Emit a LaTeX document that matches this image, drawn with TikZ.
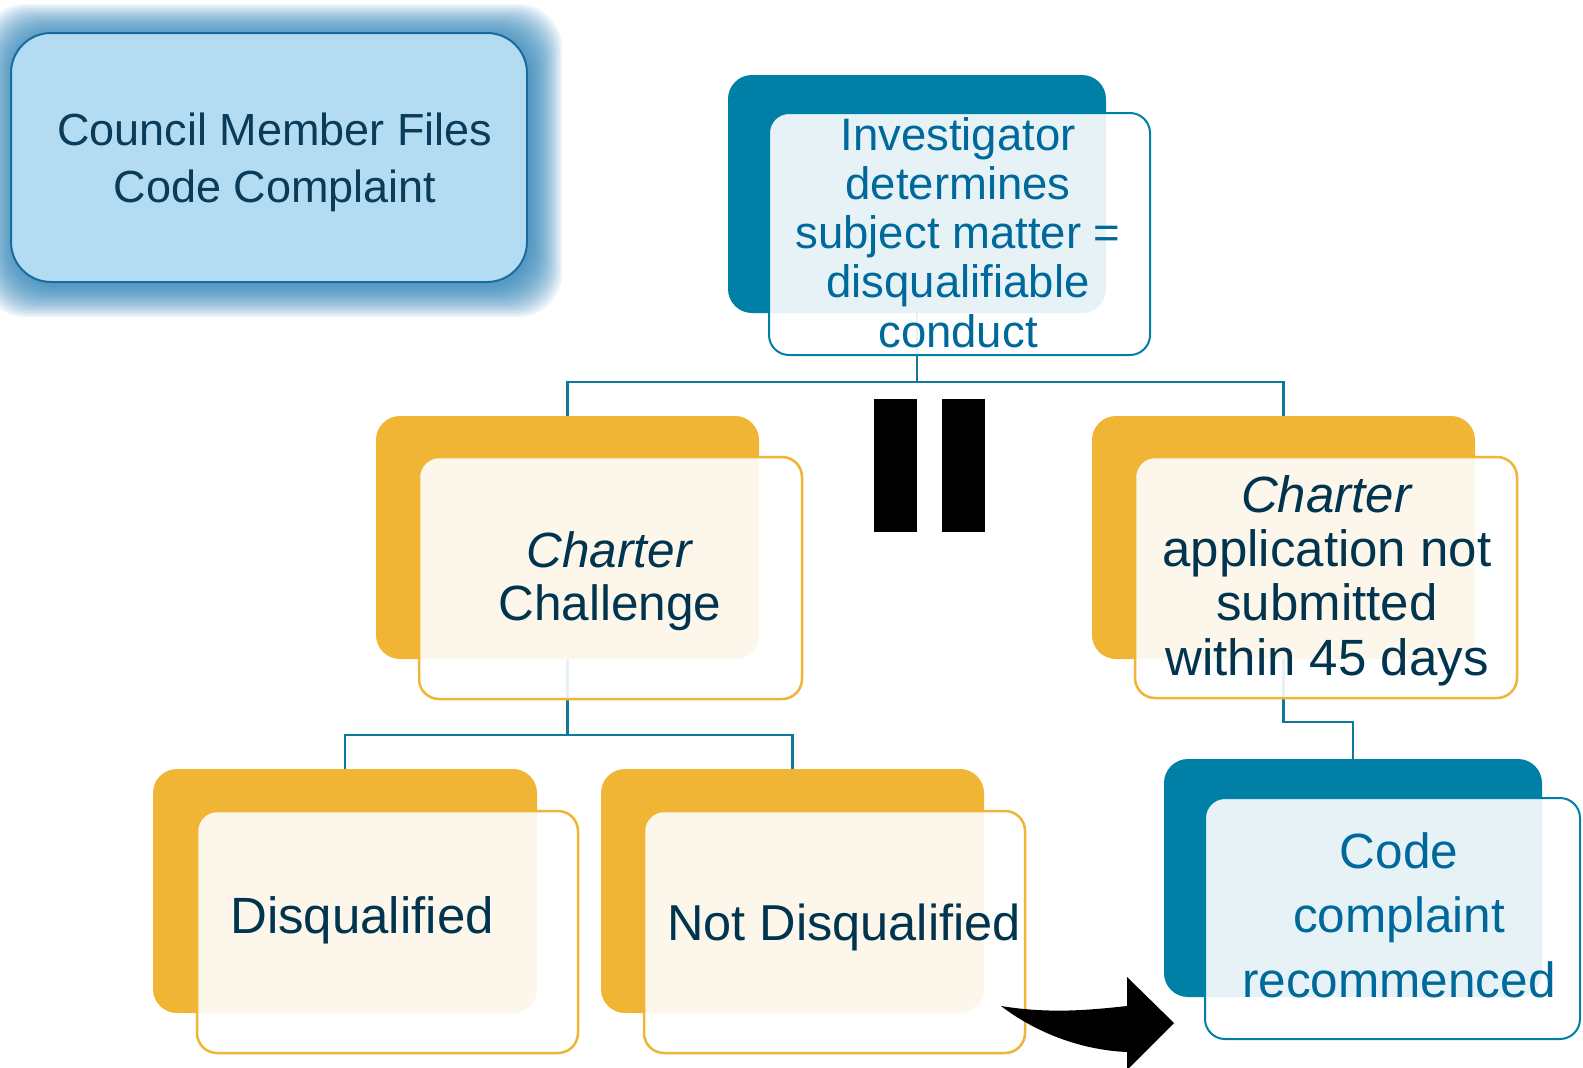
\documentclass[tikz,border=0pt]{standalone}
\usepackage{fontspec}
\setmainfont{Liberation Sans}
\definecolor{tealdark}{HTML}{0080A6}
\definecolor{goldc}{HTML}{F0B534}
\definecolor{navytxt}{HTML}{00344F}
\definecolor{tealtxt}{HTML}{00699B}
\definecolor{linecol}{HTML}{0E7A9B}
\definecolor{councilfill}{HTML}{B3DCF2}
\definecolor{councilborder}{HTML}{1A6A9E}
\definecolor{councilTxt}{HTML}{0A3B58}
\definecolor{glowblue}{HTML}{1E7DB5}
\pgfdeclarelayer{bg}
\pgfsetlayers{bg,main}
\tikzset{
  box/.style={rectangle, inner sep=0pt, outer sep=0pt},
  backgold/.style={box, fill=goldc, rounded corners=24pt},
  backteal/.style={box, fill=tealdark, rounded corners=24pt},
  frontgold/.style={box, draw=goldc, line width=2.5pt, fill=white, fill opacity=0.9, rounded corners=20pt},
  frontteal/.style={box, draw=tealdark, line width=2pt, fill=white, fill opacity=0.9, rounded corners=20pt},
  conn/.style={draw=linecol, line width=2.5pt},
  txtnavy/.style={align=center, anchor=base, text=navytxt, inner sep=0pt},
  txtteal/.style={align=center, anchor=base, text=tealtxt, inner sep=0pt},
}
\begin{document}
\begin{tikzpicture}[x=1pt, y=-1pt]
\useasboundingbox (0,0) rectangle (1583,1068);
\begin{pgfonlayer}{bg}
\fill[white] (0,0) rectangle (1583,1068);
\end{pgfonlayer}

% glow around council box
\foreach \s in {2,4,...,32} {
  \fill[glowblue, opacity=0.08, rounded corners=44pt]
    ({11-\s+3},{33-\s+3}) rectangle ({527+\s+3},{282+\s+3});
}
\node[box, fill=councilfill, draw=councilborder, line width=2pt, rounded corners=40pt,
      minimum width=516pt, minimum height=249pt] (council) at (269,157.5) {};
\node[align=center, anchor=base, text=councilTxt, inner sep=0pt,
      font=\fontsize{45}{57}\selectfont] (councilt) at (275,202)
      {Council Member Files\\Code Complaint};

% Investigator
\node[backteal, minimum width=378pt, minimum height=238pt] (invb) at (917,194) {};
\node[frontteal, minimum width=381pt, minimum height=242pt] (invf) at (959.5,234) {};
\node[txtteal, font=\fontsize{45.5}{49.2}\selectfont] (invt) at (958,347)
  {Investigator\\determines\\subject matter =\\disqualifiable\\conduct};

% Charter Challenge
\node[backgold, minimum width=383pt, minimum height=243pt] (ccb) at (567.5,537.5) {};
\node[frontgold, minimum width=383pt, minimum height=242pt] (ccf) at (610.5,578) {};
\node[txtnavy, font=\fontsize{49.5}{53}\selectfont] (cct) at (610,620)
  {\textit{Charter}\\Challenge};

% Charter application
\node[backgold, minimum width=383pt, minimum height=243pt] (cab) at (1283.5,537.5) {};
\node[frontgold, minimum width=382pt, minimum height=241pt] (caf) at (1326,577.5) {};
\node[txtnavy, font=\fontsize{51}{54.3}\selectfont] (cat) at (1327,675)
  {\textit{Charter}\\application not\\submitted\\within 45 days};

% Disqualified
\node[backgold, minimum width=384pt, minimum height=244pt] (dqb) at (345,891) {};
\node[frontgold, minimum width=381pt, minimum height=242pt] (dqf) at (387.5,932) {};
\node[txtnavy, font=\fontsize{51}{54}\selectfont] (dqt) at (362,933) {Disqualified};

% Not Disqualified
\node[backgold, minimum width=383pt, minimum height=244pt] (ndb) at (792.5,891) {};
\node[frontgold, minimum width=381pt, minimum height=242pt] (ndf) at (834.5,932) {};
\node[txtnavy, font=\fontsize{50.5}{54}\selectfont] (ndt) at (844,940) {Not Disqualified};

% Code complaint recommenced
\node[backteal, minimum width=378pt, minimum height=238pt] (codeb) at (1353,878) {};
\node[frontteal, minimum width=375pt, minimum height=241pt] (codef) at (1392.5,918.5) {};
\node[txtteal, font=\fontsize{49.5}{64.5}\selectfont] (codet) at (1399,997)
  {Code\\complaint\\recommenced};

% equals bars
\fill[black] (874,399) rectangle (917,532);
\fill[black] (942,399) rectangle (985,532);

% curved block arrow
\fill[black] (1001,1006) .. controls (1050,1014) and (1090,1010) .. (1127,1006)
  -- (1127,977) -- (1174,1023) -- (1127,1070) -- (1127,1052)
  .. controls (1080,1050) and (1035,1032) .. cycle;

% connectors behind boxes
\coordinate (h1) at (0,382);
\coordinate (h2) at (0,735);
\coordinate (h3) at (0,722);
\begin{pgfonlayer}{bg}
\draw[conn] (invb.south) -- (invb.south |- h1) -| (ccb.north);
\draw[conn] (invb.south |- h1) -| (cab.north);
\draw[conn] (ccb.south) -- (ccb.south |- h2) -| (dqb.north);
\draw[conn] (ccb.south |- h2) -| (ndb.north);
\draw[conn] (cab.south) -- (cab.south |- h3) -| (codeb.north);
\end{pgfonlayer}
\end{tikzpicture}
\end{document}
